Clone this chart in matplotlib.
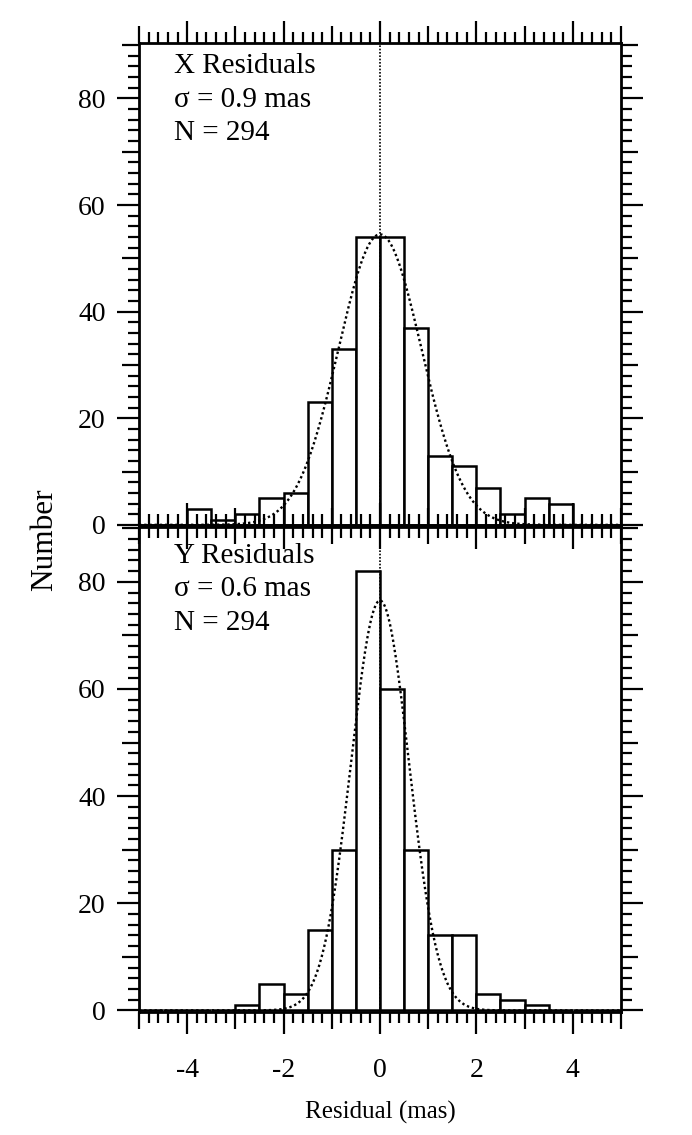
import numpy as np
import matplotlib
matplotlib.use('Agg')
import matplotlib.pyplot as plt

plt.rcParams['font.family'] = ['Liberation Serif', 'DejaVu Serif']
plt.rcParams['axes.unicode_minus'] = False

# histogram bins, 0.5 mas wide from -5 to 5 (left edges)
bin_left = np.arange(-5.0, 5.0, 0.5)
bin_width = 0.5

x_counts = [0, 0, 3, 1, 2, 5, 6, 23, 33, 54, 54, 37, 13, 11, 7, 2, 5, 4, 0, 0]
y_counts = [0, 0, 0, 0, 1, 5, 3, 15, 30, 82, 60, 30, 14, 14, 3, 2, 1, 0, 0, 0]

# gaussian fits: amplitude, centre, sigma
x_fit = (54.5, 0.0, 0.86)
y_fit = (76.5, 0.0, 0.60)

x_text = ['X Residuals', 'σ = 0.9 mas', 'N = 294']
y_text = ['Y Residuals', 'σ = 0.6 mas', 'N = 294']

x_ticks = np.arange(-5, 6, 1)
y_ticks = np.arange(0, 91, 10)

LONG, MED, SHORT = 16, 12, 8


def setup_axis(ax, counts, fit, lines, text_y, show_xlabels, ylim):
    ax.set_facecolor('none')
    ax.bar(bin_left, counts, width=bin_width, align='edge', color='white',
           edgecolor='black', linewidth=1.8, zorder=2)
    amp, mu, sig = fit
    xs = np.linspace(-5, 5, 600)
    ax.plot(xs, amp * np.exp(-(xs - mu) ** 2 / (2 * sig ** 2)), color='black',
            linestyle=(0, (1, 1.2)), linewidth=1.7, zorder=3)
    ax.axvline(0, color='black', linestyle=(0, (1, 1)), linewidth=1.2, zorder=3)

    for s, yy in zip(lines, text_y):
        ax.text(-4.28, yy, s, fontsize=21)

    ax.set_xlim(-5, 5)
    ax.set_ylim(*ylim)
    for sp in ax.spines.values():
        sp.set_linewidth(2.0)

    ax.set_xticks(x_ticks)
    ax.set_xticks(np.arange(-5, 5.01, 0.2), minor=True)
    ax.set_xticklabels([str(v) if v % 2 == 0 and abs(v) < 5 else '' for v in x_ticks])
    ax.set_yticks(y_ticks)
    ax.set_yticks(np.arange(0, 91, 2), minor=True)
    ax.set_yticklabels([str(v) if v % 20 == 0 and v < 90 else '' for v in y_ticks])

    ax.tick_params(which='both', direction='out', top=True, bottom=True,
                   left=True, right=True, width=1.6, labelsize=20)
    ax.tick_params(which='major', length=LONG)
    ax.tick_params(which='minor', length=SHORT)
    ax.tick_params(axis='x', pad=17, labelbottom=show_xlabels)
    ax.tick_params(axis='y', pad=8)

    for t, v in zip(ax.xaxis.get_major_ticks(), x_ticks):
        if v % 2 != 0:
            t.tick1line.set_markersize(MED)
            t.tick2line.set_markersize(MED)
    for t, v in zip(ax.yaxis.get_major_ticks(), y_ticks):
        if v % 20 != 0:
            t.tick1line.set_markersize(MED)
            t.tick2line.set_markersize(MED)


fig = plt.figure(figsize=(6.92, 11.35), dpi=100)
ax1 = fig.add_axes([139 / 692, 1 - 527 / 1135, 482 / 692, 484 / 1135])
ax2 = fig.add_axes([139 / 692, 1 - 1012 / 1135, 482 / 692, 487 / 1135])

setup_axis(ax1, x_counts, x_fit, x_text, [84.7, 78.4, 72.2], False, (-0.4, 90.4))
setup_axis(ax2, y_counts, y_fit, y_text, [83.6, 77.3, 71.0], True, (-0.3, 90.6))

fig.text(45 / 692, 1 - 540 / 1135, 'Number', rotation=90, ha='center', va='center',
         fontsize=22.5)
fig.text(380 / 692, 1 - 1112 / 1135, 'Residual (mas)', ha='center', va='center',
         fontsize=18)

fig.savefig('out.png', dpi=100)
